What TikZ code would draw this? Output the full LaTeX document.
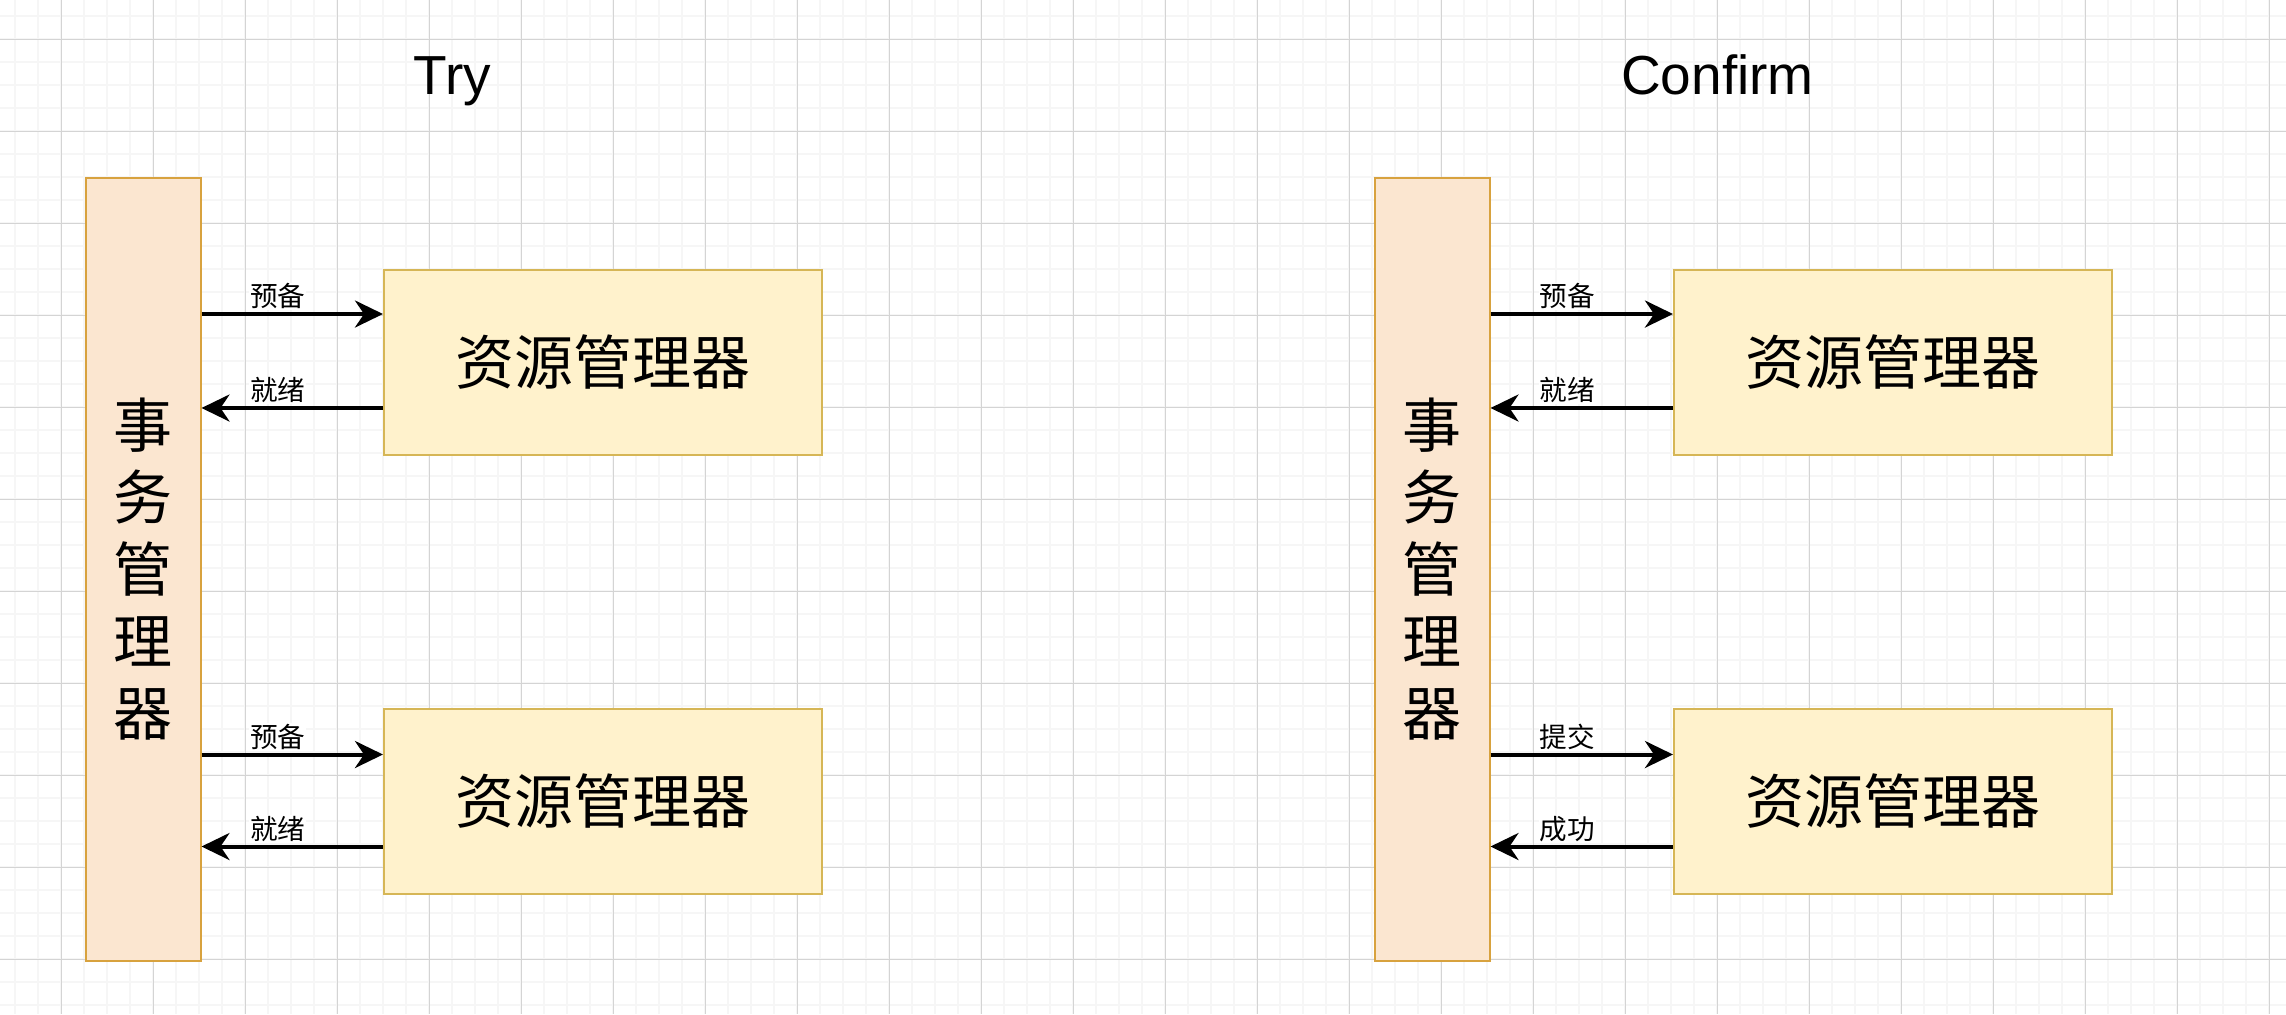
\documentclass[tikz,border=0pt]{standalone}
\usepackage{fontspec}
\setmainfont{Liberation Sans}
\newfontfamily\cjk{Noto Sans CJK SC}
\usepackage{xcolor}
\usetikzlibrary{arrows.meta,positioning,calc}

\definecolor{tmfill}{HTML}{FBE6D0}
\definecolor{tmline}{HTML}{D8A23E}
\definecolor{rmfill}{HTML}{FFF2CC}
\definecolor{rmline}{HTML}{D6B656}
\definecolor{gridminor}{HTML}{F6F6F6}
\definecolor{gridmajor}{HTML}{D4D4D4}

\begin{document}
\begin{tikzpicture}[
    x=0.5pt, y=-0.5pt,
    tmbox/.style={rectangle, draw=tmline, fill=tmfill, line width=1pt, minimum width=57.5pt, minimum height=391.5pt, align=center, inner sep=0pt, font=\cjk\fontsize{29.5pt}{36pt}\selectfont},
    rmbox/.style={rectangle, draw=rmline, fill=rmfill, line width=1pt, minimum width=219pt, minimum height=92.5pt, font=\cjk\fontsize{29.5pt}{35pt}\selectfont},
    flow/.style={draw, line width=2pt, -{Stealth[length=14pt,width=13.5pt,inset=4.5pt]}},
    lbl/.style={font=\cjk\fontsize{13.8pt}{16pt}\selectfont, fill=white, inner sep=0.5pt, yshift=1pt},
    phasetitle/.style={anchor=base, font=\fontsize{27.5pt}{33pt}\selectfont}
]
\useasboundingbox (0,0) rectangle (2286,1014);
\fill[white] (0,0) rectangle (2286,1014);

% background grid
\foreach \i in {0,...,98} \draw[gridminor, line width=1pt] (15.3+23*\i,0) -- (15.3+23*\i,1014);
\foreach \i in {0,...,43} \draw[gridminor, line width=1pt] (0,16.3+23*\i) -- (2286,16.3+23*\i);
\foreach \i in {0,...,24} \draw[gridmajor, line width=0.5pt] (61.3+92*\i,0) -- (61.3+92*\i,1014);
\foreach \i in {0,...,10} \draw[gridmajor, line width=0.5pt] (0,39.3+92*\i) -- (2286,39.3+92*\i);

% Try
\node [phasetitle] (titleTry) at (452.5,94) {Try};
\node [tmbox] (tmTry) at (143,569.5) {事\\务\\管\\理\\器};
\node [rmbox] (rmTryA) at (603,362.5) {资源管理器};
\node [rmbox, below=126pt of rmTryA] (rmTryB) {资源管理器};

% Confirm
\node [phasetitle] (titleConfirm) at (1717.5,94) {Confirm};
\node [tmbox, right=586pt of tmTry] (tmConfirm) {事\\务\\管\\理\\器};
\node [rmbox, right=425pt of rmTryA] (rmConfirmA) {资源管理器};
\node [rmbox, below=126pt of rmConfirmA] (rmConfirmB) {资源管理器};

% arrow ends on the resource managers
\path (rmTryA.west) ++(0,-48.5) coordinate (tryA1);
\path (rmTryA.west) ++(0,45.5) coordinate (tryA2);
\path (rmTryB.west) ++(0,-47) coordinate (tryB1);
\path (rmTryB.west) ++(0,45) coordinate (tryB2);
\path (rmConfirmA.west) ++(0,-48.5) coordinate (cfmA1);
\path (rmConfirmA.west) ++(0,45.5) coordinate (cfmA2);
\path (rmConfirmB.west) ++(0,-47) coordinate (cfmB1);
\path (rmConfirmB.west) ++(0,45) coordinate (cfmB2);

\path [flow] (tmTry.east |- tryA1) -- node[lbl, pos=.42, above] {预备} (tryA1);
\path [flow] (tryA2) -- node[lbl, pos=.58, above] {就绪} (tmTry.east |- tryA2);
\path [flow] (tmTry.east |- tryB1) -- node[lbl, pos=.42, above] {预备} (tryB1);
\path [flow] (tryB2) -- node[lbl, pos=.58, above] {就绪} (tmTry.east |- tryB2);

\path [flow] (tmConfirm.east |- cfmA1) -- node[lbl, pos=.42, above] {预备} (cfmA1);
\path [flow] (cfmA2) -- node[lbl, pos=.58, above] {就绪} (tmConfirm.east |- cfmA2);
\path [flow] (tmConfirm.east |- cfmB1) -- node[lbl, pos=.42, above] {提交} (cfmB1);
\path [flow] (cfmB2) -- node[lbl, pos=.58, above] {成功} (tmConfirm.east |- cfmB2);

\end{tikzpicture}
\end{document}
